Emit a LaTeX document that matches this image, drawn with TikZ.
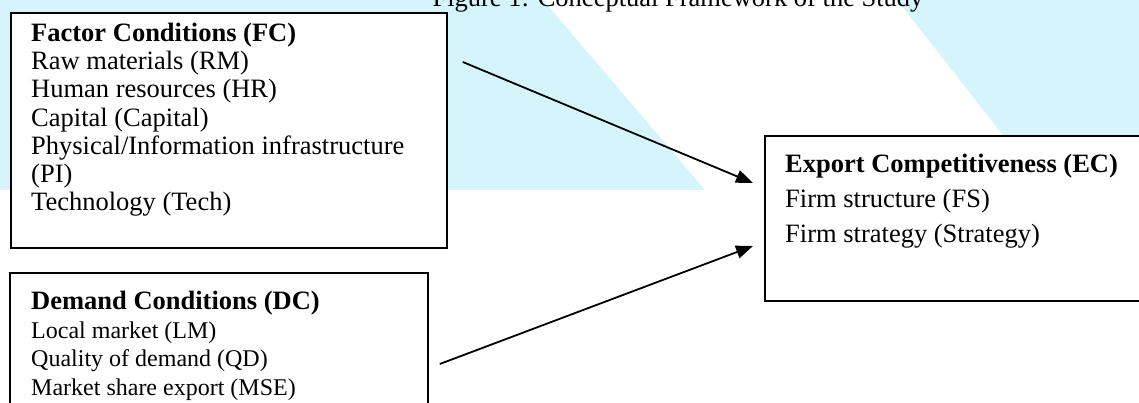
\documentclass[tikz,border=0pt]{standalone}
\usepackage{fontspec}
\setmainfont{Liberation Serif}
\usetikzlibrary{arrows.meta}
\definecolor{filigrana}{RGB}{214,244,252}
\tikzset{
  box/.style={draw, line width=1.8pt, fill=white, inner sep=0pt, anchor=north west},
  testo/.style={align=left, inner sep=0pt, anchor=base west, font=\fontsize{26.5}{28.3}\selectfont},
  freccia/.style={line width=1.8pt, -{Triangle[length=17pt,width=13pt]}}
}
\begin{document}
\begin{tikzpicture}[x=1pt,y=-1pt]
            % Area del disegno
            \clip (0,0) rectangle (1139,403);
            % Filigrana azzurra
            \fill[filigrana] (0,0) -- (543,0) -- (705,190) -- (0,190) -- cycle;
            \fill[filigrana] (897,0) -- (1139,0) -- (1139,190) -- (1046,190) -- cycle;
            % Titolo tagliato in alto
            \node[anchor=base, inner sep=0pt, font=\fontsize{26.5}{28.3}\selectfont] (titolo) at (678,7) {Figure 1: Conceptual Framework of the Study};
            % Riquadro FC (ancora sull'ultima riga)
            \node[box, minimum width=436pt, minimum height=235pt] (fc) at (10,12) {};
            \node[testo] (fctesto) at ([shift={(21,199)}]fc.north west) {\textbf{Factor Conditions (FC)}\\Raw materials (RM)\\Human resources (HR)\\Capital (Capital)\\Physical/Information infrastructure\\(PI)\\Technology (Tech)};
            % Riquadro DC
            \node[box, minimum width=418pt, minimum height=150pt] (dc) at (9,272) {};
            \node[testo, font=\fontsize{24}{28.5}\selectfont] (dctesto) at ([shift={(22,123)}]dc.north west) {{\fontsize{26.5}{28.5}\selectfont\bfseries Demand Conditions (DC)}\\Local market (LM)\\Quality of demand (QD)\\Market share export (MSE)};
            % Riquadro EC
            \node[box, minimum width=400pt, minimum height=165pt] (ec) at (764,135) {};
            \node[testo, font=\fontsize{26.5}{35}\selectfont] (ectesto) at ([shift={(21,107)}]ec.north west) {\textbf{Export Competitiveness (EC)}\\Firm structure (FS)\\Firm strategy (Strategy)};
            % Frecce verso EC
            \draw[freccia] ([shift={(15,50)}]fc.north east) -- ([shift={(-11,48)}]ec.north west);
            \draw[freccia] ([shift={(11,92)}]dc.north east) -- ([shift={(-11,111)}]ec.north west);
\end{tikzpicture}
\end{document}
